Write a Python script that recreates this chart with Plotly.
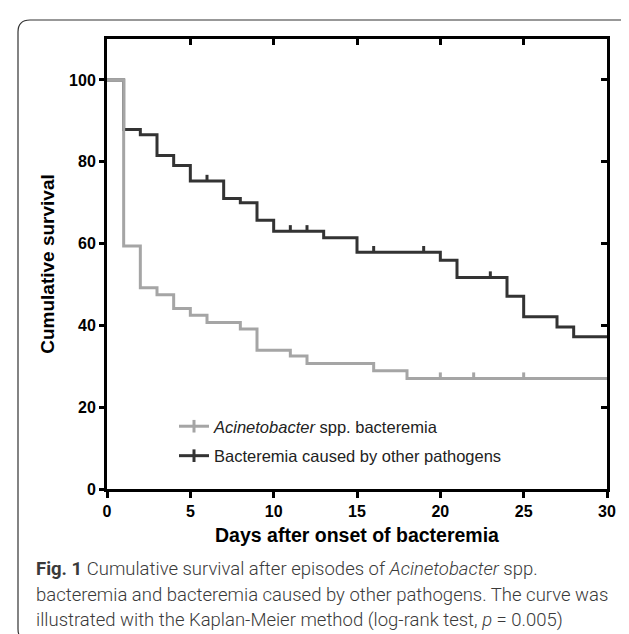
import plotly.graph_objects as go

# ---------------- data ----------------
acin_days = [0, 1, 2, 3, 4, 5, 6, 8, 9, 11, 12, 16, 18, 30]
acin_surv = [100, 59.4, 49.2, 47.5, 44.1, 42.5, 40.7, 39.1, 33.9, 32.5, 30.7, 28.9, 27.0, 27.0]
acin_censor_days = [20, 22, 25]

other_days = [0, 1, 2, 3, 4, 5, 7, 8, 9, 10, 13, 15, 20, 21, 24, 25, 27, 28, 30]
other_surv = [100, 87.9, 86.6, 81.5, 79.1, 75.3, 71.0, 70.0, 65.7, 63.0, 61.4, 57.9, 55.9, 51.7,
              47.1, 42.1, 39.6, 37.2, 37.2]
other_censor_days = [6, 11, 12, 16, 19, 23]

x_ticks = [0, 5, 10, 15, 20, 25, 30]
y_ticks = [0, 20, 40, 60, 80, 100]

acin_name = "<i>Acinetobacter</i> spp. bacteremia"
other_name = "Bacteremia caused by other pathogens"

GRAY = "#a5a5a5"
DARK = "#333333"


def step_value(days, surv, t):
    v = surv[0]
    for d, s in zip(days, surv):
        if d <= t:
            v = s
    return v


# ---------------- layout geometry (pixels) ----------------
W, H = 629, 634
L, R, T, B = 99, 599, 31, 481
PW, PH = R - L, B - T


def px(xp):
    return (xp - L) / PW


def py(yp):
    return (B - yp) / PH


fig = go.Figure()


def add_group(days, surv, cdays, color, name, rank, group):
    fig.add_trace(go.Scatter(x=days, y=surv, mode="lines", line_shape="hv",
                             line=dict(color=color, width=3), name=name,
                             legendgroup=group, showlegend=False, hoverinfo="skip"))
    fig.add_trace(go.Scatter(x=cdays, y=[step_value(days, surv, d) for d in cdays],
                             mode="markers", marker=dict(size=0.1, color=color, opacity=0),
                             error_y=dict(type="data", symmetric=False,
                                          array=[1.5] * len(cdays),
                                          arrayminus=[0] * len(cdays),
                                          width=0, thickness=3, color=color),
                             legendgroup=group, showlegend=False, hoverinfo="skip"))
    # legend entry (line with censor tick)
    fig.add_trace(go.Scatter(x=[None], y=[None], mode="lines+markers",
                             line=dict(color=color, width=3),
                             marker=dict(symbol="line-ns", size=9,
                                         line=dict(color=color, width=3)),
                             name=name, legendgroup=group, legendrank=rank,
                             showlegend=True, hoverinfo="skip"))


# dark curve first so the gray one sits on top where they overlap
add_group(other_days, other_surv, other_censor_days, DARK, other_name, 2, "b")
add_group(acin_days, acin_surv, acin_censor_days, GRAY, acin_name, 1, "a")

# dummy trace for mirror axes
fig.add_trace(go.Scatter(x=[None], y=[None], xaxis="x2", yaxis="y2",
                         showlegend=False, hoverinfo="skip"))

ARIAL = "Arial, Liberation Sans, sans-serif"
tick_font = dict(family=ARIAL, size=16, color="black")

fig.update_layout(
    width=W, height=H,
    margin=dict(l=L, r=W - R, t=T, b=H - B),
    paper_bgcolor="white", plot_bgcolor="white",
    xaxis=dict(range=[0, 30], tickvals=x_ticks, ticktext=[f"<b>{v}</b>" for v in x_ticks],
               ticks="outside", ticklen=6, tickwidth=3, tickcolor="black",
               showline=True, linewidth=3, linecolor="black",
               showgrid=False, zeroline=False, tickfont=tick_font,
               title=dict(text="<b>Days after onset of bacteremia</b>",
                          font=dict(family=ARIAL, size=19.5, color="black"), standoff=10)),
    yaxis=dict(range=[0, 110], tickvals=y_ticks, ticktext=[f"<b>{v}</b>" for v in y_ticks],
               ticks="outside", ticklen=5, tickwidth=3, tickcolor="black",
               showline=True, linewidth=3, linecolor="black",
               showgrid=False, zeroline=False, tickfont=tick_font,
               title=dict(text="<b>Cumulative survival</b>",
                          font=dict(family=ARIAL, size=19, color="black"), standoff=10)),
    xaxis2=dict(range=[0, 30], overlaying="x", side="top", tickvals=x_ticks,
                ticks="inside", ticklen=6, tickwidth=3, tickcolor="black",
                showline=True, linewidth=3, linecolor="black",
                showticklabels=False, showgrid=False, zeroline=False),
    yaxis2=dict(range=[0, 110], overlaying="y", side="right", tickvals=y_ticks,
                ticks="inside", ticklen=6, tickwidth=3, tickcolor="black",
                showline=True, linewidth=3, linecolor="black",
                showticklabels=False, showgrid=False, zeroline=False),
    legend=dict(x=px(166), y=py(401), xanchor="left", yanchor="top",
                bgcolor="rgba(0,0,0,0)", borderwidth=0,
                font=dict(family=ARIAL, size=16.5, color="#222"),
                tracegroupgap=5, itemwidth=30),
    showlegend=True,
)

# rounded caption box
x0, x1 = px(10), px(628)
y0, y1 = py(12), py(633)
rx, ry = 12 / PW, 12 / PH
path = (f"M {x0 + rx},{y0} L {x1 - rx},{y0} Q {x1},{y0} {x1},{y0 - ry} "
        f"L {x1},{y1 + ry} Q {x1},{y1} {x1 - rx},{y1} "
        f"L {x0 + rx},{y1} Q {x0},{y1} {x0},{y1 + ry} "
        f"L {x0},{y0 - ry} Q {x0},{y0} {x0 + rx},{y0} Z")
fig.add_shape(type="path", path=path, xref="paper", yref="paper",
              line=dict(color="#333", width=1.2), fillcolor="rgba(0,0,0,0)", layer="below")

cap_font = dict(family="Roboto, Lato, sans-serif", size=18.5, color="#3a3a3a", weight=300)
caption_lines = [
    "<b>Fig. 1</b> Cumulative survival after episodes of <i>Acinetobacter</i> spp.",
    "bacteremia and bacteremia caused by other pathogens. The curve was",
    "illustrated with the Kaplan-Meier method (log-rank test, <i>p</i> = 0.005)",
]
for txt, yc in zip(caption_lines, [561, 587, 612]):
    fig.add_annotation(text=txt, xref="paper", yref="paper", x=px(26), y=py(yc),
                       xanchor="left", yanchor="middle", showarrow=False, font=cap_font)

fig.write_html("out.html")
